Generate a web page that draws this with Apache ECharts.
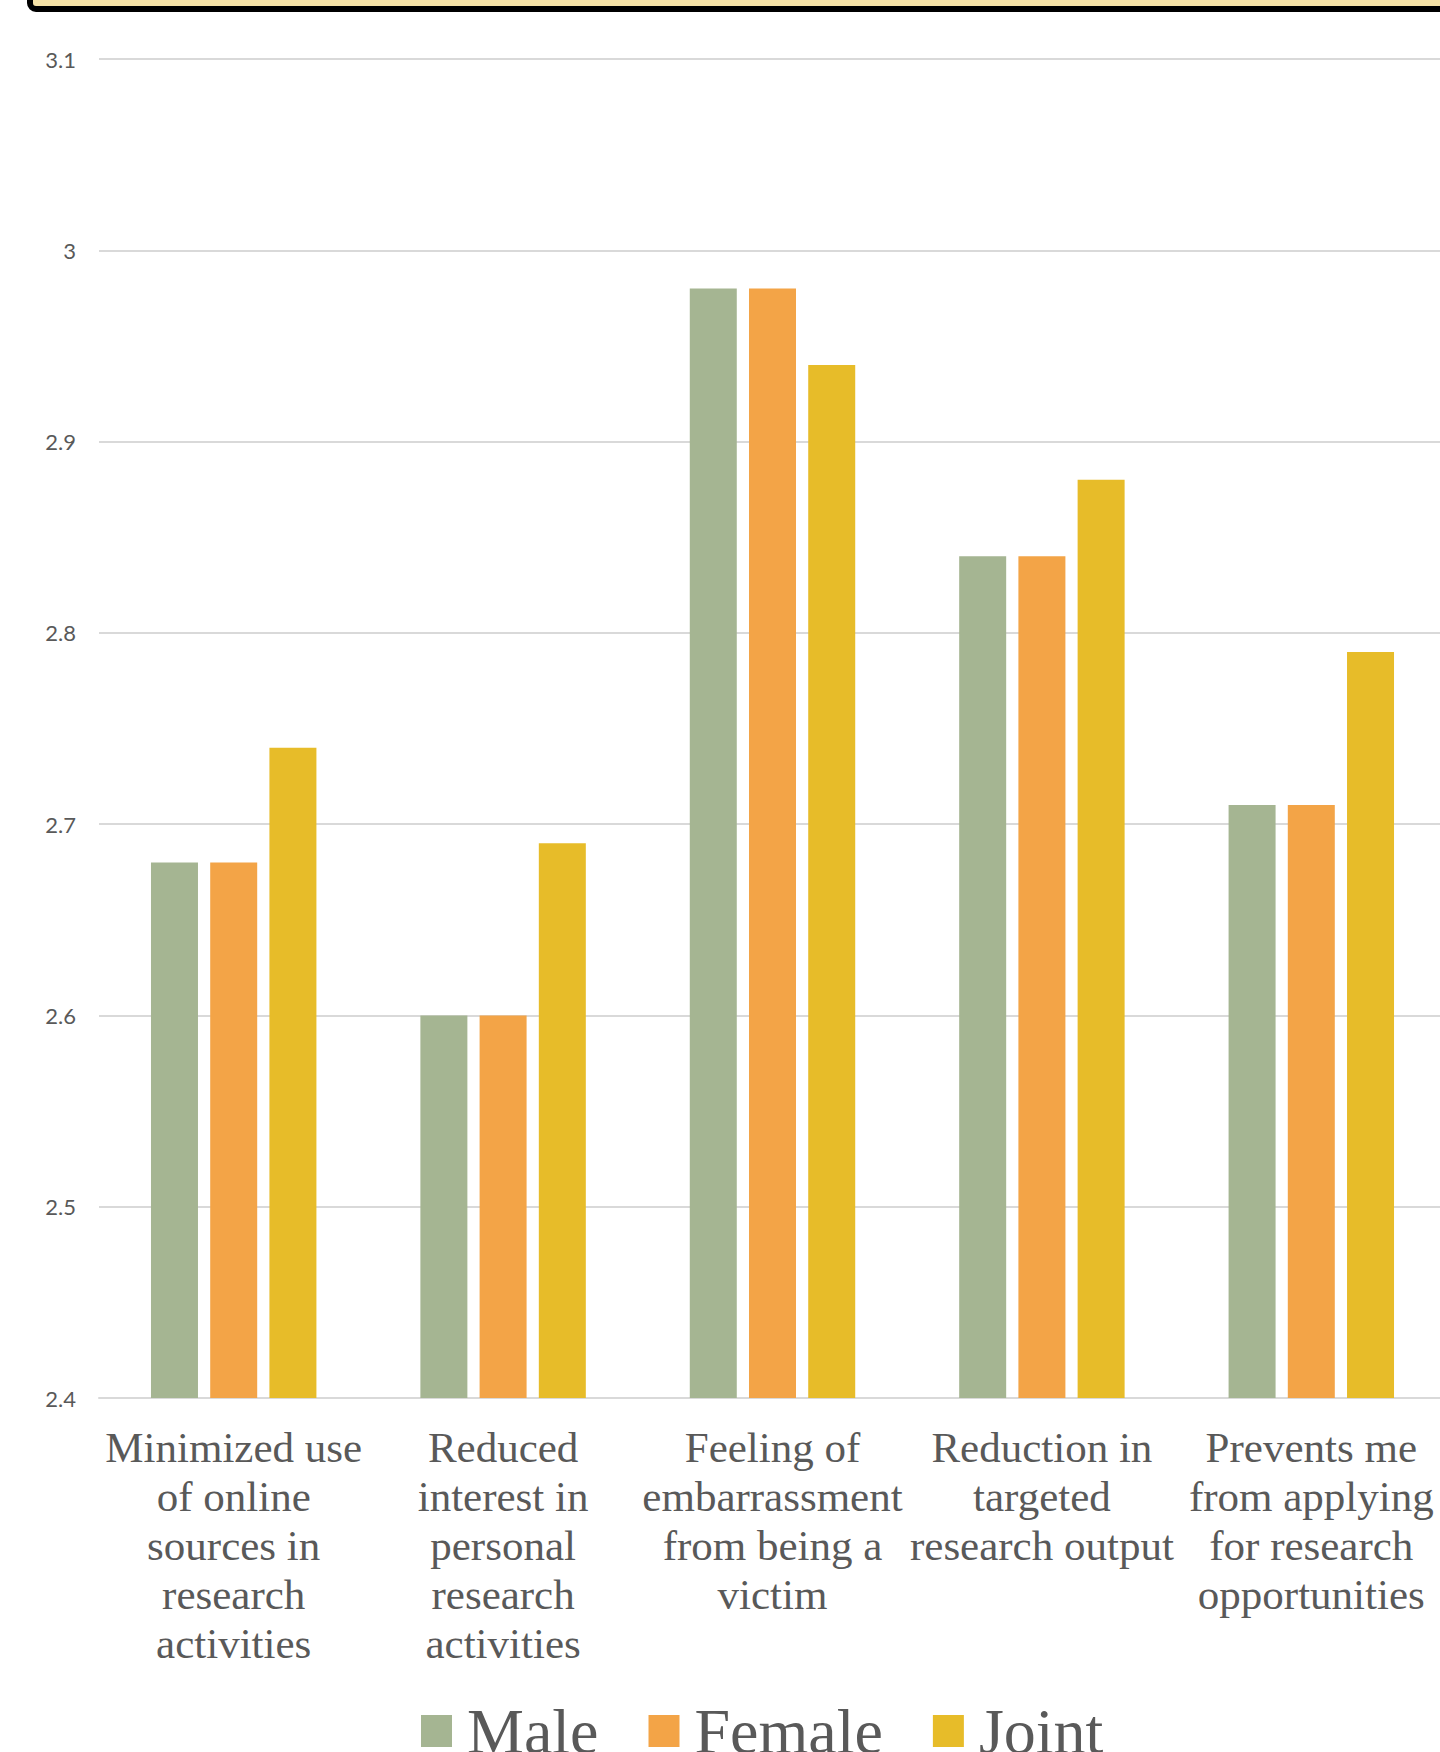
<!DOCTYPE html>
<html>
<head>
<meta charset="utf-8">
<title>Mean scores by gender</title>
<script src="https://cdn.jsdelivr.net/npm/echarts@6/dist/echarts.min.js"></script>
<style>
  html, body { margin: 0; padding: 0; background: #ffffff; overflow: hidden; }
  body { width: 1440px; height: 1752px; }
  #chart { width: 1460px; height: 1752px; }
</style>
</head>
<body>
<div id="chart"></div>
<script>
// Impact items (category axis)
const categories = [
  'Minimized use\nof online\nsources in\nresearch\nactivities',
  'Reduced\ninterest in\npersonal\nresearch\nactivities',
  'Feeling of\nembarrassment\nfrom being a\nvictim',
  'Reduction in\ntargeted\nresearch output',
  'Prevents me\nfrom applying\nfor research\nopportunities'
];

// Mean scores per group
const maleValues   = [2.68, 2.60, 2.98, 2.84, 2.71];
const femaleValues = [2.68, 2.60, 2.98, 2.84, 2.71];
const jointValues  = [2.74, 2.69, 2.94, 2.88, 2.79];

// Value axis range and tick step
const yMin = 2.4;
const yMax = 3.1;
const yStep = 0.1;

const seriesNames = ['Male', 'Female', 'Joint'];
const seriesColors = ['#A5B592', '#F3A447', '#E7BC29'];
const seriesValues = [maleValues, femaleValues, jointValues];

const chart = echarts.init(document.getElementById('chart'), null, { renderer: 'svg' });

const option = {
  backgroundColor: '#ffffff',
  animation: false,
  color: seriesColors,
  graphic: [
    {
      type: 'rect',
      z: 0,
      shape: { x: 30, y: -40, width: 1500, height: 49, r: 6 },
      style: { fill: '#F6E2A7', stroke: '#000000', lineWidth: 6 }
    }
  ],
  // the plot runs slightly past the right edge of the page
  grid: {
    left: 99,
    right: 14,
    top: 59,
    bottom: 1752 - 1398,
    containLabel: false
  },
  legend: {
    data: seriesNames,
    left: 416,
    top: 1694,
    itemWidth: 31,
    itemHeight: 32,
    itemGap: 50,
    icon: 'rect',
    textStyle: {
      fontFamily: '"Liberation Serif", "Times New Roman", serif',
      fontSize: 64,
      lineHeight: 63,
      color: '#595959',
      padding: [0, 0, 0, 10]
    }
  },
  xAxis: {
    type: 'category',
    data: categories,
    axisLine: { show: true, lineStyle: { color: '#D9D9D9', width: 2 } },
    axisTick: { show: false },
    axisLabel: {
      interval: 0,
      margin: 25,
      fontFamily: '"Liberation Serif", "Times New Roman", serif',
      fontSize: 43,
      lineHeight: 49,
      color: '#595959',
      align: 'center'
    }
  },
  yAxis: {
    type: 'value',
    min: yMin,
    max: yMax,
    interval: yStep,
    axisLine: { show: false },
    axisTick: { show: false },
    splitLine: { show: true, lineStyle: { color: '#D9D9D9', width: 2 } },
    axisLabel: {
      margin: 23,
      fontFamily: 'Lato, "Open Sans", sans-serif',
      fontSize: 22,
      color: '#595959'
    }
  },
  series: seriesNames.map((name, i) => ({
    name: name,
    type: 'bar',
    data: seriesValues[i],
    barWidth: 47,
    barGap: '26%',
    itemStyle: { color: seriesColors[i] }
  }))
};

chart.setOption(option);
</script>
</body>
</html>
